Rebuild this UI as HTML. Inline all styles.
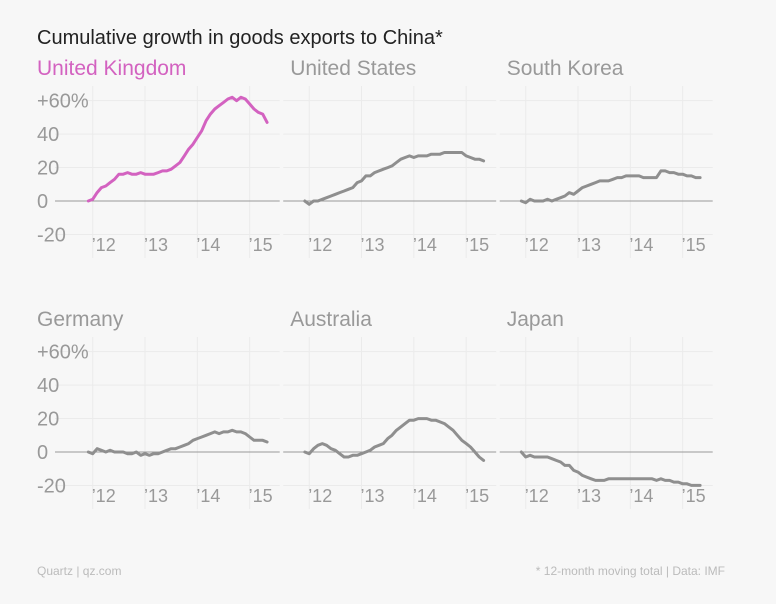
<!DOCTYPE html>
<html><head><meta charset="utf-8">
<style>
body{margin:0;background:#f7f7f7;width:776px;height:599px;overflow:hidden;font-family:"Liberation Sans",sans-serif;}
svg text{font-family:"Liberation Sans",sans-serif;}
</style></head>
<body>
<svg id="c" width="776" height="599">
<text x="37" y="44" font-size="20" fill="#222">Cumulative growth in goods exports to China*</text>
<text x="37" y="575" font-size="12" fill="#bbb">Quartz | qz.com</text>
<text x="725" y="575" font-size="12" fill="#bbb" text-anchor="end">* 12-month moving total | Data: IMF</text>
</svg>
<script>
const countries=["United Kingdom","United States","South Korea","Germany","Australia","Japan"];
const uk=[0,1,5,8,9,11,13,16,16,17,16,16,17,16,16,16,17,18,18,19,21,23,27,31,34,38,42,48,52,55,57,59,61,62,60,62,61,58,55,53,52,47];
const us=[0,-2,0,0,1,2,3,4,5,6,7,8,11,12,15,15,17,18,19,20,21,23,25,26,27,26,27,27,27,28,28,28,29,29,29,29,29,27,26,25,25,24];
const sk=[0,-1,1,0,0,0,1,0,1,2,3,5,4,6,8,9,10,11,12,12,12,13,14,14,15,15,15,15,14,14,14,14,18,18,17,17,16,16,15,15,14,14];
const de=[0,-1,2,1,0,1,0,0,0,-1,-1,0,-2,-1,-2,-1,-1,0,1,2,2,3,4,5,7,8,9,10,11,12,11,12,12,13,12,12,11,9,7,7,7,6];
const au=[0,-1,2,4,5,4,2,1,-1,-3,-3,-2,-2,-1,0,1,3,4,5,8,10,13,15,17,19,19,20,20,20,19,19,18,17,15,13,10,7,5,3,0,-3,-5];
const jp=[0,-3,-2,-3,-3,-3,-3,-4,-5,-6,-8,-8,-11,-12,-14,-15,-16,-17,-17,-17,-16,-16,-16,-16,-16,-16,-16,-16,-16,-16,-16,-17,-16,-17,-17,-18,-18,-19,-19,-20,-20,-20];
const series=[uk,us,sk,de,au,jp];
const yTicks=[60,40,20,0,-20];
const yTickLabels=["+60%","40","20","0","-20"];
const xTicks=[0,12,24,36];
const xTickLabels=["’12","’13","’14","’15"];
const firstMonth=-1;

const svg=document.getElementById('c');
const NS="http://www.w3.org/2000/svg";
function mk(t,a){const e=document.createElementNS(NS,t);for(const k in a)e.setAttribute(k,a[k]);svg.appendChild(e);return e;}
for(let p=0;p<6;p++){
  const col=p%3,row=Math.floor(p/3);
  const gx=92.7+216.5*col;
  const y0=row?452:201;
  const xS=m=>gx+m*4.36;
  const yS=v=>y0-v*1.672;
  const left=col?gx-26:55, right=gx+187;
  const t=mk('text',{x:col?gx-19:37,y:row?326:75,'font-size':21,fill:p==0?'#d362c0':'#999'});
  t.textContent=countries[p];
  
  
  xTicks.forEach((m,i)=>{
    const l=mk('line',{x1:xS(m),x2:xS(m),y1:y0-115,y2:y0+57,stroke:'#ebebeb','stroke-width':1});
    
    
    const tx=mk('text',{x:xS(m)-1,y:y0+50,'font-size':18,fill:'#999'});
    tx.textContent=xTickLabels[i];
    
    
  });
  yTicks.forEach((v,i)=>{
    const l=mk('line',{x1:left,x2:right,y1:yS(v),y2:yS(v),stroke:v==0?'#999':'#ebebeb','stroke-width':1});
    
    
    if(col==0){
      const tx=mk('text',{x:37,y:yS(v)+7,'font-size':20,fill:'#999'});
      tx.textContent=yTickLabels[i];
      
      
    }
  });
  const d=series[p].map((v,i)=>(i?'L':'M')+xS(firstMonth+i).toFixed(1)+','+yS(v).toFixed(1)).join('');
  const path=mk('path',{d:d,fill:'none',stroke:p==0?'#d362c0':'#8f8f8f','stroke-width':3,'stroke-linejoin':'round','stroke-linecap':'round'});
  
  
}
</script>
</body></html>
